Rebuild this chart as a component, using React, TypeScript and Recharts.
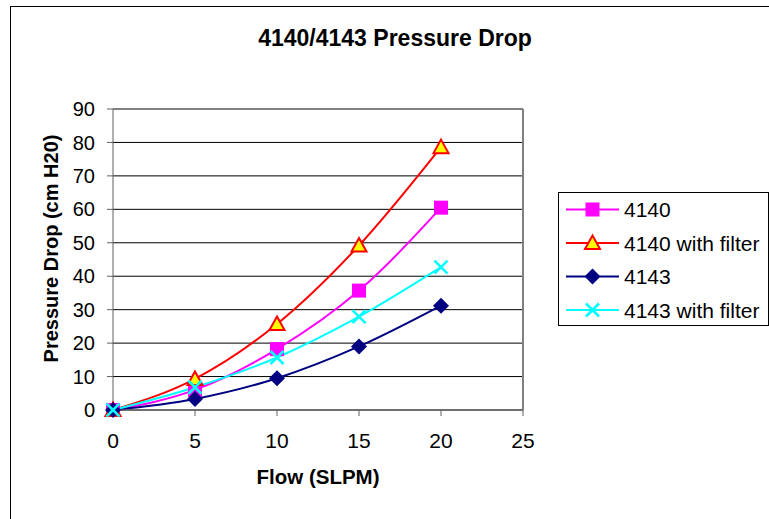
import React from 'react';
import { LineChart, Line, XAxis, YAxis, CartesianGrid, Legend, ReferenceLine } from 'recharts';

const FLOW = [0, 5, 10, 15, 20];
const S_4140 = [0, 6.0, 18.2, 35.7, 60.5];
const S_4140_FILTER = [0, 9.3, 25.7, 49.2, 78.6];
const S_4143 = [0, 3.3, 9.5, 19.0, 31.2];
const S_4143_FILTER = [0, 6.8, 15.7, 27.9, 42.7];
const X_TICKS = [0, 5, 10, 15, 20, 25];
const Y_TICKS = [0, 10, 20, 30, 40, 50, 60, 70, 80, 90];

const data = FLOW.map((f, i) => ({
  flow: f,
  a: S_4140[i],
  b: S_4140_FILTER[i],
  c: S_4143[i],
  d: S_4143_FILTER[i],
}));

const FONT = '"Liberation Sans", Arial, sans-serif';

type Kind = 'square' | 'triangle' | 'diamond' | 'cross';

const SERIES: { key: string; name: string; color: string; kind: Kind }[] = [
  { key: 'a', name: '4140', color: '#FF00FF', kind: 'square' },
  { key: 'b', name: '4140 with filter', color: '#FF0000', kind: 'triangle' },
  { key: 'c', name: '4143', color: '#000080', kind: 'diamond' },
  { key: 'd', name: '4143 with filter', color: '#00FFFF', kind: 'cross' },
];

const Marker = ({ cx, cy, kind, color }: { cx: number; cy: number; kind: Kind; color: string }) => {
  if (kind === 'square') {
    return <rect x={cx - 7} y={cy - 7} width={14} height={14} fill={color} />;
  }
  if (kind === 'triangle') {
    return (
      <polygon
        points={`${cx},${cy - 7.5} ${cx + 7.5},${cy + 6} ${cx - 7.5},${cy + 6}`}
        fill="#FFFF00"
        stroke={color}
        strokeWidth={2}
      />
    );
  }
  if (kind === 'diamond') {
    return <polygon points={`${cx},${cy - 8} ${cx + 8},${cy} ${cx},${cy + 8} ${cx - 8},${cy}`} fill={color} />;
  }
  return (
    <g stroke={color} strokeWidth={2.5}>
      <line x1={cx - 6.5} y1={cy - 6.5} x2={cx + 6.5} y2={cy + 6.5} />
      <line x1={cx - 6.5} y1={cy + 6.5} x2={cx + 6.5} y2={cy - 6.5} />
    </g>
  );
};

const makeDot = (kind: Kind, color: string) => (props: any) => (
  <Marker key={`${kind}-${props.index}`} cx={props.cx} cy={props.cy} kind={kind} color={color} />
);

const LegendBox = () => (
  <svg width={211} height={134} style={{ display: 'block' }}>
    <rect x={0.5} y={0.5} width={210} height={133} fill="#fff" stroke="#000" />
    {SERIES.map((s, i) => {
      const y = 17.5 + i * 33.5;
      return (
        <g key={s.key}>
          <line x1={8} y1={y} x2={61} y2={y} stroke={s.color} strokeWidth={2} />
          <Marker cx={34.5} cy={y} kind={s.kind} color={s.color} />
          <text x={66} y={y + 7.5} fontFamily={FONT} fontSize={21} fill="#000">
            {s.name}
          </text>
        </g>
      );
    })}
  </svg>
);

const YTitle = (props: any) => {
  const vb = props.viewBox || { x: 0, y: 0, width: 0, height: 0 };
  const x = vb.x + 58;
  const y = vb.y + vb.height / 2 - 11;
  return (
    <text
      x={x}
      y={y}
      transform={`rotate(-90, ${x}, ${y})`}
      textAnchor="middle"
      fontFamily={FONT}
      fontSize={20}
      fontWeight="bold"
      fill="#000"
    >
      Pressure Drop (cm H20)
    </text>
  );
};

export default function App() {
  return (
    <div
      style={{
        position: 'fixed',
        left: 0,
        top: 0,
        width: 769,
        height: 519,
        overflow: 'hidden',
        background: '#fff',
        fontFamily: FONT,
      }}
    >
      <div
        style={{
          position: 'absolute',
          left: 10,
          top: 6,
          width: 800,
          height: 600,
          borderLeft: '1px solid #000',
          borderTop: '1px solid #000',
        }}
      />
      <div
        style={{
          position: 'absolute',
          left: 195,
          top: 27,
          width: 400,
          textAlign: 'center',
          fontSize: 23,
          fontWeight: 'bold',
          lineHeight: '23px',
          color: '#000',
        }}
      >
        4140/4143 Pressure Drop
      </div>
      <div style={{ position: 'absolute', left: 0, top: 0 }}>
        <LineChart width={769} height={519} data={data} margin={{ top: 109, right: 246, bottom: 0, left: 0 }}>
          <CartesianGrid horizontal vertical={false} stroke="#000" strokeWidth={1} />
          <XAxis
            dataKey="flow"
            type="number"
            domain={[0, 25]}
            ticks={X_TICKS}
            height={109}
            stroke="#606060"
            tickSize={6}
            tickMargin={17}
            tick={{ fill: '#000', fontSize: 21, fontFamily: FONT }}
            label={{
              value: 'Flow (SLPM)',
              position: 'insideBottom',
              offset: 35,
              fill: '#000',
              fontSize: 20.5,
              fontWeight: 'bold',
              fontFamily: FONT,
            }}
          />
          <YAxis
            type="number"
            domain={[0, 90]}
            ticks={Y_TICKS}
            width={113}
            stroke="#606060"
            tickSize={6}
            tickMargin={12}
            tick={{ fill: '#000', fontSize: 20, fontFamily: FONT }}
            label={{ content: YTitle }}
          />
          <ReferenceLine y={90} stroke="#808080" strokeWidth={2} />
          <ReferenceLine x={25} stroke="#808080" strokeWidth={2} />
          <Legend
            layout="vertical"
            align="center"
            verticalAlign="middle"
            content={() => <LegendBox />}
            wrapperStyle={{ left: 558, top: 192, width: 211, height: 134 }}
          />
          {SERIES.map((s) => (
            <Line
              key={s.key}
              dataKey={s.key}
              name={s.name}
              type="monotone"
              stroke={s.color}
              strokeWidth={2}
              dot={makeDot(s.kind, s.color)}
              activeDot={false}
              isAnimationActive={false}
            />
          ))}
        </LineChart>
      </div>
    </div>
  );
}
